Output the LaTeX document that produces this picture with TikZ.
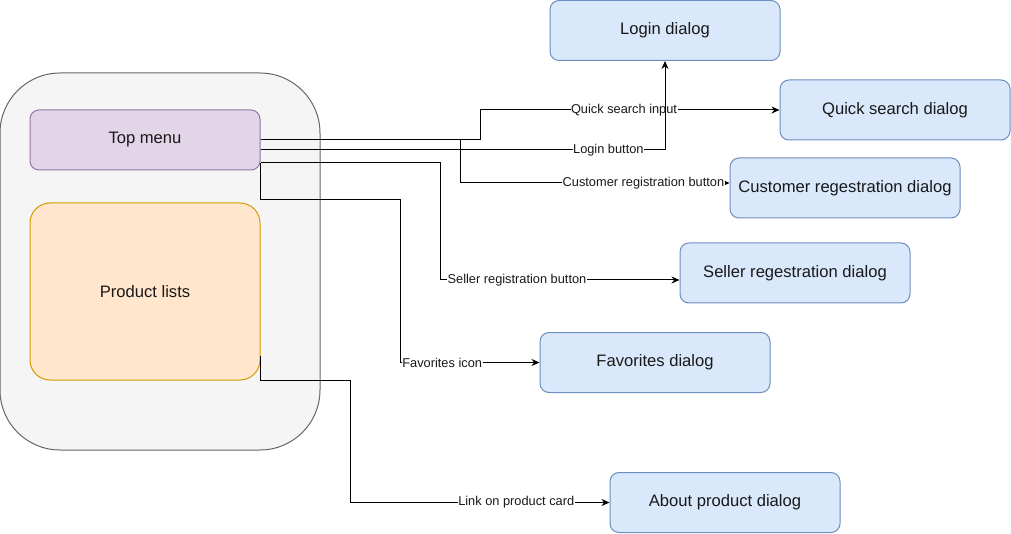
\documentclass[tikz,border=0pt]{standalone}
\usepackage{fontspec}
\setmainfont{Liberation Sans}
\usetikzlibrary{arrows.meta}
\definecolor{pageFill}{HTML}{F5F5F5}
\definecolor{pageLine}{HTML}{666666}
\definecolor{menuFill}{HTML}{E1D5E7}
\definecolor{menuLine}{HTML}{9673A6}
\definecolor{listFill}{HTML}{FFE6CC}
\definecolor{listLine}{HTML}{D79B00}
\definecolor{dlgFill}{HTML}{DAE8FC}
\definecolor{dlgLine}{HTML}{6C8EBF}
\begin{document}
\begin{tikzpicture}[x=1pt, y=-1pt,
    box/.style={line width=1pt, rounded corners=9pt, minimum width=230pt, minimum height=60pt, font=\fontsize{16.6}{19}\selectfont, text=black!90},
    dialog/.style={box, draw=dlgLine, fill=dlgFill},
    link/.style={-{Stealth[length=8pt,width=7pt]}, line width=1pt},
    lbl/.style={fill=white, inner sep=0.5pt, font=\fontsize{12.8}{15}\selectfont, text=black!90}]
    \useasboundingbox (0,0) rectangle (1011,534);
    % page layout
    \node[draw=pageLine, fill=pageFill, line width=1pt, rounded corners=60pt, minimum width=320pt, minimum height=377pt] (page) at (160,261.5) {};
    \node[box, draw=menuLine, fill=menuFill] (menu) at (145,140) {Top menu};
    \node[box, draw=listLine, fill=listFill, rounded corners=20pt, minimum height=177pt] (plist) at (145,291.5) {Product lists};
    % dialogs
    \node[dialog] (login) at (665,30.5) {Login dialog};
    \node[dialog] (qsearch) at (895,110) {Quick search dialog};
    \node[dialog] (custreg) at (845,188) {Customer regestration dialog};
    \node[dialog] (sellreg) at (795,273) {Seller regestration dialog};
    \node[dialog] (fav) at (655,362.5) {Favorites dialog};
    \node[dialog] (about) at (725,502.5) {About product dialog};
    % links
    \draw[link] (menu.east) -- ++(220,0) |- (qsearch.west) node[lbl, pos=0.74] {Quick search input};
    \draw[link] ([yshift=-10pt]menu.east) -| (login.south) node[lbl, pos=0.43] {Login button};
    \draw[link] (menu.east) -- ++(200,0) |- ([yshift=5pt]custreg.west) node[lbl, pos=0.84] {Customer registration button};
    \draw[link] ([yshift=-23pt]menu.east) -- ++(180,0) |- ([yshift=-7pt]sellreg.west) node[lbl, pos=0.66] {Seller registration button};
    \draw[link] ([yshift=-23pt]menu.east) -- ++(0,37) -- ++(140,0) |- (fav.west) node[lbl, pos=0.65] {Favorites icon};
    \draw[link] ([yshift=-64pt]plist.east) -- ++(0,25) -- ++(90,0) |- (about.west) node[lbl, pos=0.82] {Link on product card};
\end{tikzpicture}
\end{document}
